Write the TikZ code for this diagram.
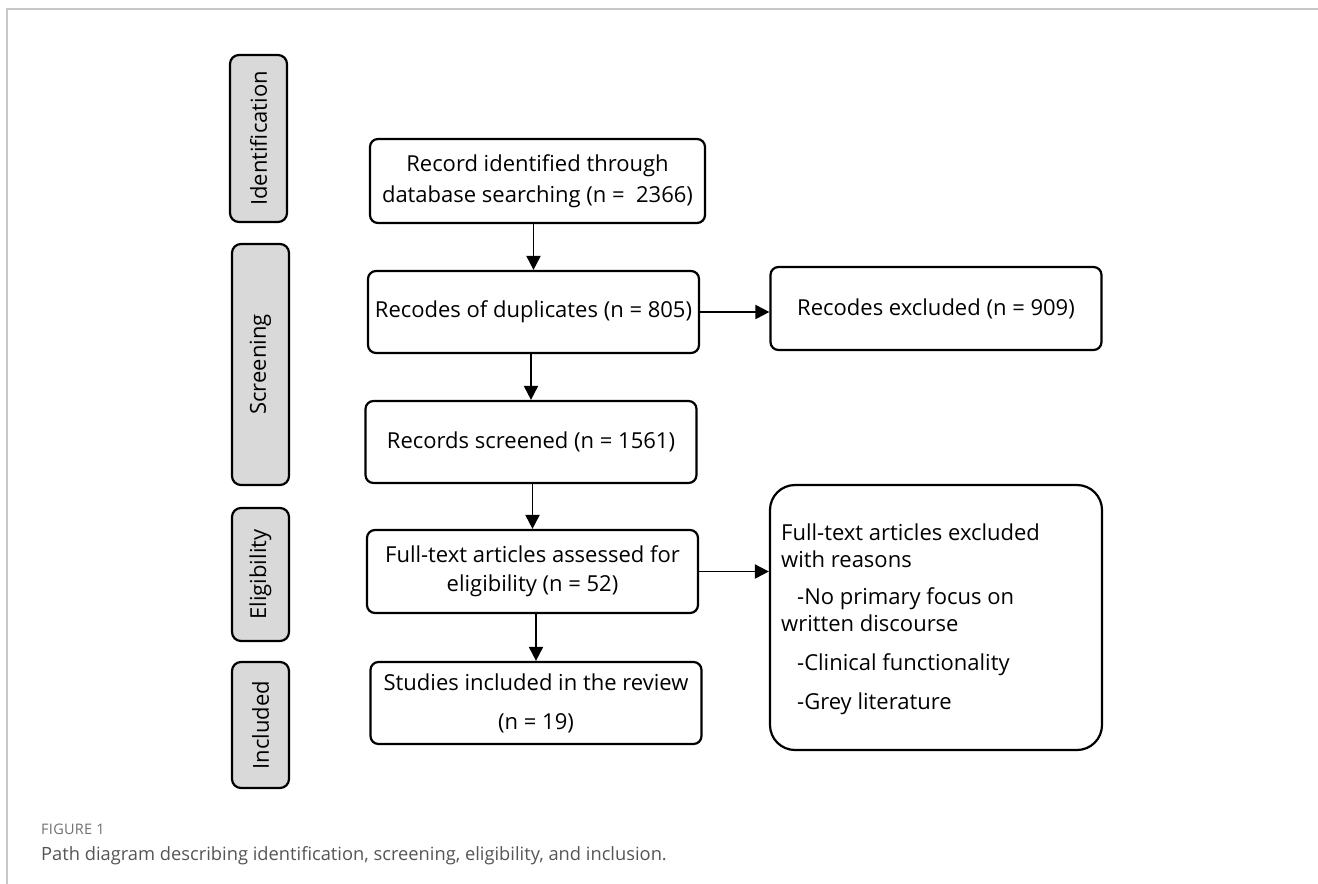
\documentclass[tikz,border=0pt]{standalone}
\usepackage{fontspec}
\setmainfont{Open Sans}
\usetikzlibrary{arrows.meta,positioning,calc}
\definecolor{sidegray}{HTML}{D9D9D9}
\definecolor{framegray}{HTML}{C8C8C8}
\definecolor{capgray}{HTML}{707070}
\definecolor{captext}{HTML}{555555}
\begin{document}
\begin{tikzpicture}[x=1pt,y=-1pt,
  box/.style={draw, line width=2.2pt, rounded corners=8pt, fill=white, inner sep=0pt,
    minimum width=331pt, minimum height=82pt, align=center, font=\fontsize{22}{30}\selectfont},
  side/.style={draw, line width=2.2pt, rounded corners=9pt, fill=sidegray, inner sep=0pt,
    rotate=90, minimum height=57pt, font=\fontsize{22}{26}\selectfont},
  exline/.style={anchor=base west, inner sep=0pt, font=\fontsize{22}{26}\selectfont},
  arr/.style={line width=1.9pt, -{Triangle[length=14pt,width=14pt]}}
]
\useasboundingbox (0,0) rectangle (1318,884);
% frame
\draw[framegray, line width=1.5pt] (7,884) -- (7,9) -- (1318,9);

% side labels
\node[side, minimum width=167pt] (s1) at (258.5,138.5) {Identification};
\node[side, minimum width=241pt] (s2) at (260.5,364.5) {Screening};
\node[side, minimum width=133pt] (s3) at (260.5,574.5) {Eligibility};
\node[side, minimum width=126pt] (s4) at (260.5,725) {Included};

% main boxes
\node[box, minimum width=335pt, minimum height=84pt, font=\fontsize{22}{31}\selectfont] (b1) at (537.5,181)
  {Record identified through\\database searching (n =\ \ 2366)};
\node[box] (b2) at (533.5,312) {Recodes of duplicates (n = 805)};
\node[box] (b3) at (531,442) {Records screened (n = 1561)};
\node[box, minimum height=83pt, font=\fontsize{22}{29}\selectfont] (b4) at (532.5,571.5)
  {Full-text articles assessed for\\eligibility (n = 52)};
\node[box, font=\fontsize{22}{39}\selectfont] (b5) at (536,703)
  {Studies included in the review\\(n = 19)};

\node[box, minimum height=83pt] (e1) at (936,308.5) {Recodes excluded (n = 909)};
\node[box, minimum width=332pt, minimum height=265pt, rounded corners=25pt] (e2) at (936,617.5) {};
\node[exline] (e2a) at (781,540) {Full-text articles excluded};
\node[exline] (e2b) at (781,567) {with reasons};
\node[exline] (e2c) at (797,604) {-No primary focus on};
\node[exline] (e2d) at (781,631) {written discourse};
\node[exline] (e2e) at (797,670) {-Clinical functionality};
\node[exline] (e2f) at (797,709) {-Grey literature};

% arrows
\draw[arr] (b2.north |- b1.south) -- (b2.north);
\draw[arr] (b3.north |- b2.south) -- (b3.north);
\draw[arr] (b4.north |- b3.south) -- (b4.north);
\draw[arr] (b5.north |- b4.south) -- (b5.north);
\draw[arr] (b2.east) -- (b2.east -| e1.west);
\draw[arr] (b4.east) -- (b4.east -| e2.west);

% caption
\node[anchor=base west, inner sep=0pt, text=capgray, font=\fontsize{14.5}{17}\selectfont\addfontfeatures{LetterSpace=2}] (fig) at (41,834) {FIGURE 1};
\node[anchor=base west, inner sep=0pt, text=captext, font=\fontsize{18.3}{22}\selectfont] (cap) at (41,860) {Path diagram describing identification, screening, eligibility, and inclusion.};
\end{tikzpicture}
\end{document}
